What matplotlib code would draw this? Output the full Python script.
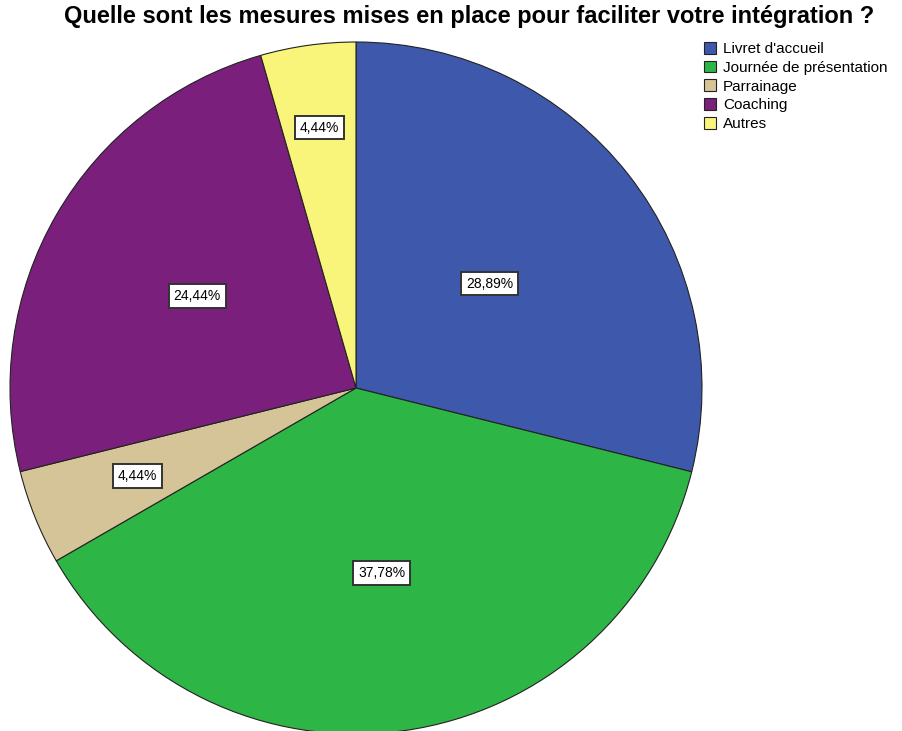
import matplotlib.pyplot as plt
import numpy as np

# answers to the integration question
categories = ["Livret d'accueil", "Journée de présentation", "Parrainage", "Coaching", "Autres"]
percents = [28.89, 37.78, 4.44, 24.44, 4.44]
colors = ['#3e58ab', '#2db546', '#d5c497', '#7a1f7c', '#f9f47a']

title = 'Quelle sont les mesures mises en place pour faciliter votre intégration ?'

# radial position of each percentage box (fraction of radius)
label_dist = [0.49, 0.54, 0.68, 0.53, 0.76]

plt.rcParams['font.family'] = ['Liberation Sans', 'DejaVu Sans']

fig = plt.figure(figsize=(9.02, 7.31), dpi=100)
ax = fig.add_axes([10/902, -3/731, 692/902, 692/731])

wedges, _ = ax.pie(percents, colors=colors, startangle=90, counterclock=False,
                   radius=1, wedgeprops={'edgecolor': '#222222', 'linewidth': 0.8})

for w, p, d in zip(wedges, percents, label_dist):
    mid = np.deg2rad((w.theta1 + w.theta2) / 2)
    ax.text(d*np.cos(mid), d*np.sin(mid), ('%.2f%%' % p).replace('.', ','),
            ha='center', va='center', fontsize=10,
            bbox=dict(boxstyle='square,pad=0.35', facecolor='white',
                      edgecolor='#333333', linewidth=1.4))

ax.set_xlim(-1, 1)
ax.set_ylim(-1, 1)
ax.axis('off')

fig.text(0.52, 0.977, title, ha='center', va='center', fontsize=17, fontweight='bold')

fig.legend(wedges, categories, loc='upper left', bbox_to_anchor=(704/902, 1 - 42/731),
           frameon=False, fontsize=11, handlelength=0.8, handleheight=0.8,
           handletextpad=0.45, labelspacing=0.3, borderaxespad=0, borderpad=0)

fig.savefig('out.png', dpi=100)
